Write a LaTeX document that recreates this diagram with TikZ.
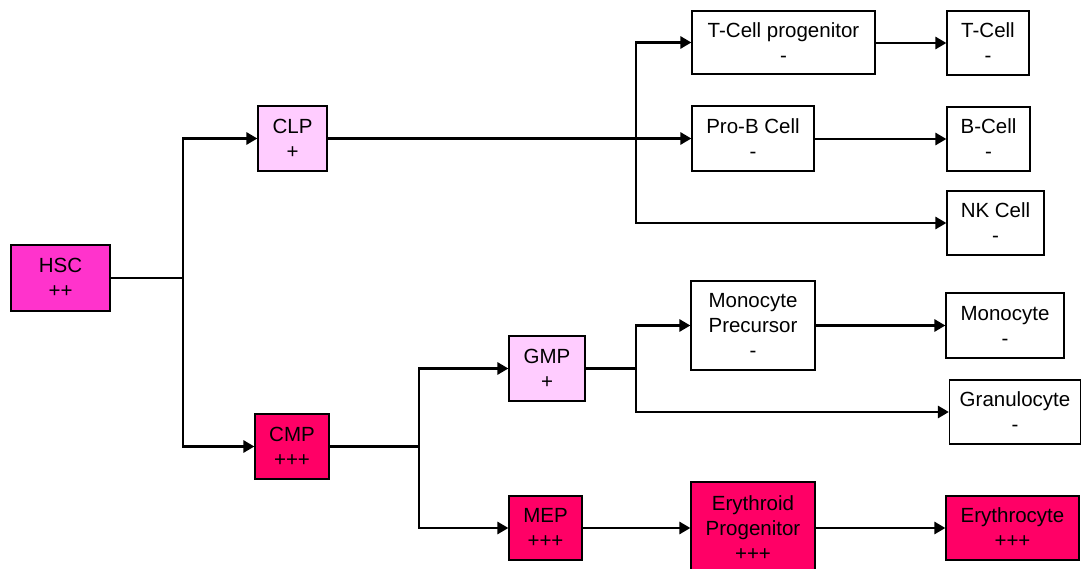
\documentclass[tikz,border=0pt]{standalone}
\usepackage{fontspec}
\setmainfont{Liberation Sans}
\usetikzlibrary{arrows.meta}
\definecolor{hscpink}{RGB}{255,51,204}
\definecolor{lightpink}{RGB}{255,204,255}
\definecolor{crimson}{RGB}{255,0,102}
\tikzset{
  cellbox/.style={draw=black, line width=1.2pt, align=center, inner sep=0pt,
    font=\fontsize{20.5}{25}\selectfont, fill=white},
  hscbox/.style={cellbox, fill=hscpink},
  lightbox/.style={cellbox, fill=lightpink},
  redbox/.style={cellbox, fill=crimson},
  conn/.style={line width=2.8pt, line cap=butt},
  arr/.style={conn, -{Triangle[length=11pt,width=12pt]}},
}
\begin{document}
\begin{tikzpicture}[x=1pt,y=-1pt]
\useasboundingbox (0,0) rectangle (1082,569);
% nodes
\node[hscbox, minimum width=99pt, minimum height=66pt] (HSC) at (60.5,278) {HSC\\++};
\node[lightbox, minimum width=69pt, minimum height=65pt] (CLP) at (292.5,138.5) {CLP\\+};
\node[redbox, minimum width=74pt, minimum height=65pt] (CMP) at (292,446.5) {CMP\\+++};
\node[lightbox, minimum width=76pt, minimum height=65pt] (GMP) at (547,368.5) {GMP\\+};
\node[redbox, minimum width=73pt, minimum height=64pt] (MEP) at (545.5,528) {MEP\\+++};
\node[cellbox, minimum width=183pt, minimum height=63pt] (TP) at (783.5,42.5) {T-Cell progenitor\\-};
\node[cellbox, minimum width=122pt, minimum height=65pt] (PB) at (753,138.5) {Pro-B Cell\\-};
\node[cellbox, minimum width=124pt, minimum height=89pt] (MP) at (753,325.5) {Monocyte\\Precursor\\-};
\node[redbox, minimum width=124pt, minimum height=92pt] (EP) at (753,528) {Erythroid\\Progenitor\\+++};
\node[cellbox, minimum width=82pt, minimum height=64pt] (TC) at (988,43) {T-Cell\\-};
\node[cellbox, minimum width=83pt, minimum height=64pt] (BC) at (988.5,139) {B-Cell\\-};
\node[cellbox, minimum width=97pt, minimum height=64pt] (NK) at (995.5,223) {NK Cell\\-};
\node[cellbox, minimum width=118pt, minimum height=65pt] (MO) at (1005,325.5) {Monocyte\\-};
\node[cellbox, minimum width=131pt, minimum height=64pt] (GR) at (1015,412) {Granulocyte\\-};
\node[redbox, minimum width=133pt, minimum height=64pt] (ER) at (1012.5,528) {Erythrocyte\\+++};
% junctions
\coordinate (j1) at (183,278);
\coordinate (j2) at (636,138.5);
\coordinate (j3) at (419,446.5);
\coordinate (j4) at (636,368.5);
% connectors
\draw[conn] (HSC.east) -- (j1);
\draw[arr] (j1) |- (CLP.west);
\draw[arr] (j1) |- (CMP.west);
\draw[conn] (CLP.east) -- (j2);
\draw[arr] (j2) |- (TP.west);
\draw[arr] (j2) -- (PB.west);
\draw[arr] (j2) |- (NK.west);
\draw[arr] (TP.east |- TC.west) -- (TC.west);
\draw[arr] (PB.east |- BC.west) -- (BC.west);
\draw[conn] (CMP.east) -- (j3);
\draw[arr] (j3) |- (GMP.west);
\draw[arr] (j3) |- (MEP.west);
\draw[conn] (GMP.east) -- (j4);
\draw[arr] (j4) |- (MP.west);
\draw[arr] (j4) |- (GR.west);
\draw[arr] (MP.east) -- (MO.west);
\draw[arr] (MEP.east) -- (EP.west);
\draw[arr] (EP.east) -- (ER.west);
\end{tikzpicture}
\end{document}
